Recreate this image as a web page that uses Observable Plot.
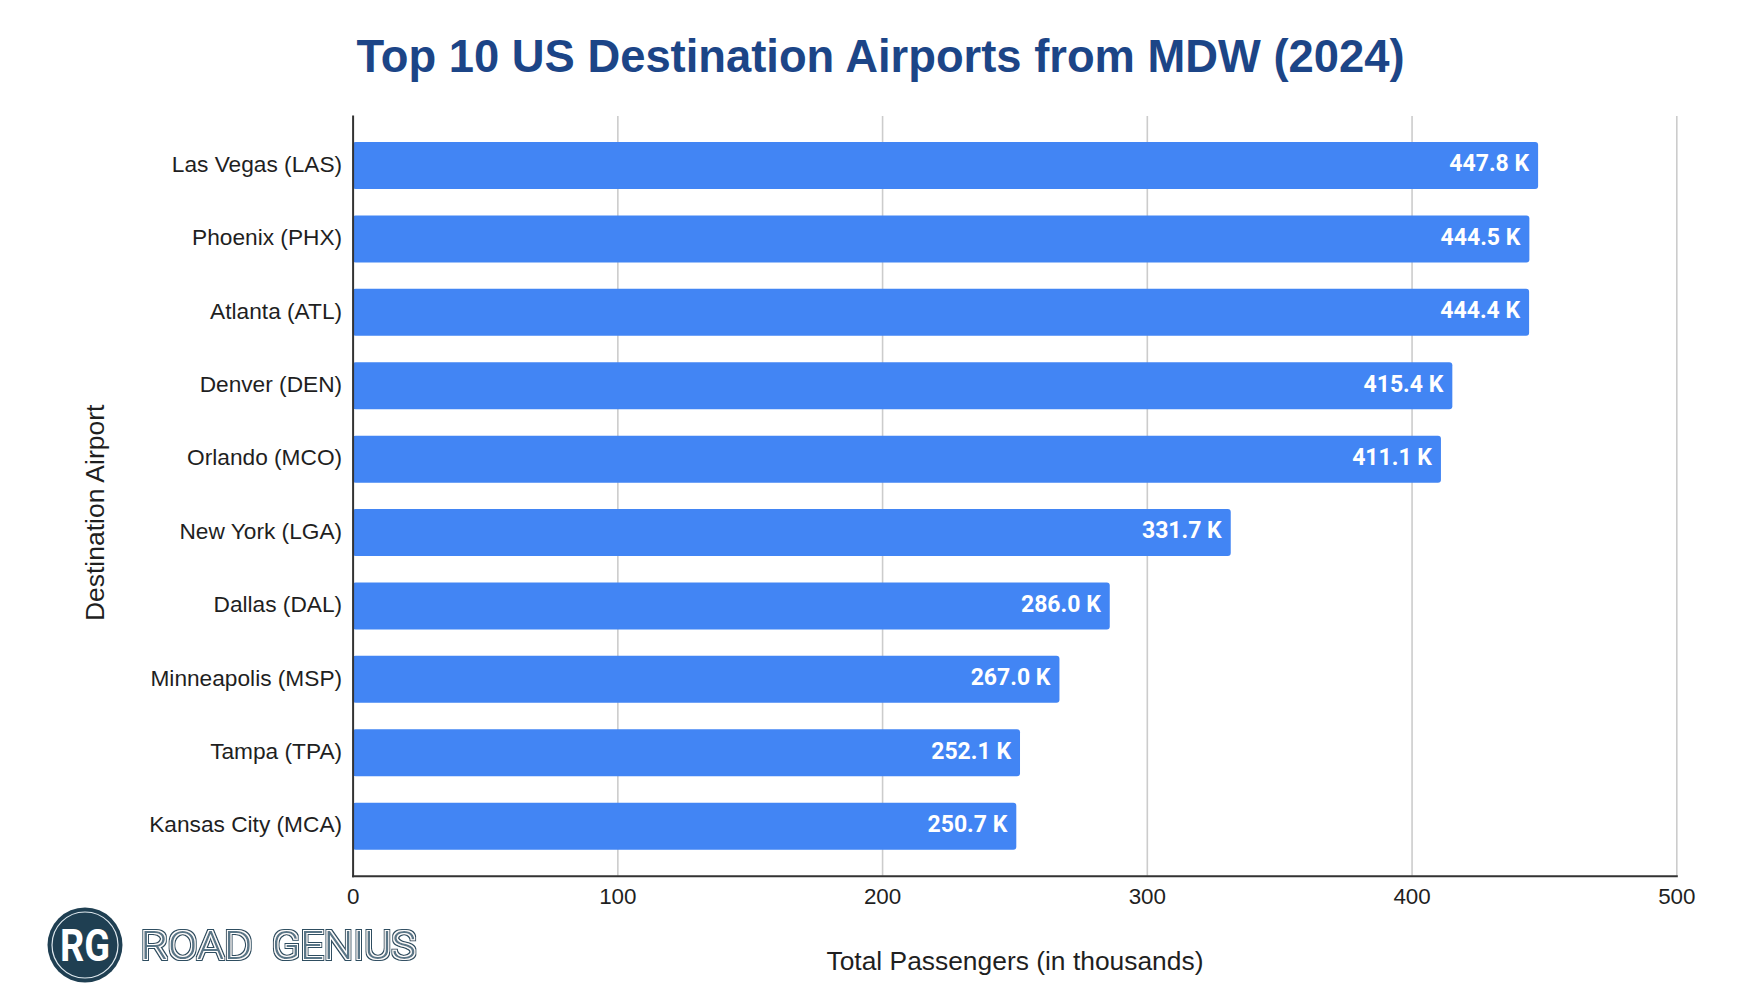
<!DOCTYPE html>
<html><head><meta charset="utf-8">
<script src="https://cdn.jsdelivr.net/npm/d3@7"></script>
<script src="https://cdn.jsdelivr.net/npm/@observablehq/plot@0.6"></script>
<style>
html,body{margin:0;padding:0;background:#fff;width:1760px;height:1000px;overflow:hidden;position:relative}
#title{height:100px;width:1760px;box-sizing:border-box;position:relative}
#title span{position:absolute;left:0;width:1761px;text-align:center;top:27px;font:bold 45.35px/60px "Liberation Sans",Arial,sans-serif;color:#1c4587;white-space:nowrap}
#chart svg{display:block}
#logo{position:absolute;left:0;top:880px}
</style></head><body>
<div id="title"><span>Top 10 US Destination Airports from MDW (2024)</span></div>
<div id="chart"></div>
<svg id="logo" width="460" height="120" viewBox="0 880 460 120">
  <defs>
    <filter id="inline" x="-5%" y="-20%" width="110%" height="140%">
      <feMorphology in="SourceAlpha" operator="dilate" radius="2.2" result="outer"/>
      <feFlood flood-color="#2d4d60"/><feComposite in2="outer" operator="in" result="o"/>
      <feMorphology in="SourceAlpha" operator="dilate" radius="1.2" result="mid"/>
      <feFlood flood-color="#ffffff"/><feComposite in2="mid" operator="in" result="m"/>
      <feMerge><feMergeNode in="o"/><feMergeNode in="m"/><feMergeNode in="SourceGraphic"/></feMerge>
    </filter>
  </defs>
  <circle cx="85" cy="945" r="37.5" fill="#1f3f52"/>
  <circle cx="85" cy="945" r="33" fill="none" stroke="#dfe8ee" stroke-width="1.2"/>
  <text x="85" y="961" text-anchor="middle" font-family="Roboto,sans-serif" font-weight="700" font-size="44" fill="#fff" textLength="50" lengthAdjust="spacingAndGlyphs">RG</text>
  <g font-family="Roboto,sans-serif" font-weight="300" font-size="38" fill="#5a7687" filter="url(#inline)">
    <text x="140.5" y="958.5" textLength="112" lengthAdjust="spacingAndGlyphs">ROAD</text>
    <text x="272" y="958.5" textLength="144" lengthAdjust="spacingAndGlyphs">GENIUS</text>
  </g>
</svg>
<script>
const airports = ["Las Vegas (LAS)","Phoenix (PHX)","Atlanta (ATL)","Denver (DEN)","Orlando (MCO)","New York (LGA)","Dallas (DAL)","Minneapolis (MSP)","Tampa (TPA)","Kansas City (MCA)"];
const passengers = [447.8,444.5,444.4,415.4,411.1,331.7,286.0,267.0,252.1,250.7];
const xTicks = [0,100,200,300,400,500];
const gridTicks = [100,200,300,400,500];
const xLabel = "Total Passengers (in thousands)";
const yLabel = "Destination Airport";
const rows = airports.map((a,i)=>({airport:a,value:passengers[i]}));
const sans = '"Liberation Sans",Arial,sans-serif';
const plot = Plot.plot({
  width:1760, height:900,
  marginLeft:352.6, marginRight:83.7, marginTop:16, marginBottom:124.3,
  style:{fontFamily:sans, background:"#fff"},
  x:{domain:[0,500]},
  y:{domain:airports, paddingInner:0.36, paddingOuter:0.355, align:0.5, round:false},
  marks:[
    Plot.gridX(gridTicks,{stroke:"#cccccc",strokeOpacity:1,strokeWidth:1.6}),
    Plot.barX(rows,{x:"value",y:"airport",fill:"#4285f4",rx:3}),
    Plot.frame({anchor:"left",stroke:"#333",strokeWidth:2}),
    Plot.frame({anchor:"bottom",stroke:"#333",strokeWidth:2}),
    Plot.axisY({tickSize:0,tickPadding:11,fontSize:22.7,label:null,color:"#1f1f1f",dy:-1.5}),
    Plot.axisX(xTicks,{anchor:"bottom",tickSize:0,tickPadding:12,fontSize:22.4,label:null,color:"#1f1f1f"}),
    Plot.text(rows,{x:"value",y:"airport",text:d=>d.value.toFixed(1)+" K",textAnchor:"end",dx:-9.5,dy:-2,fill:"#fff",fontSize:23,fontWeight:700,fontFamily:"Roboto,sans-serif"}),
    Plot.text([xLabel],{frameAnchor:"bottom",lineAnchor:"bottom",dy:94,fontSize:26.4,fill:"#1f1f1f"}),
    Plot.text([yLabel],{frameAnchor:"left",textAnchor:"middle",rotate:-90,dx:-258,dy:16.5,fontSize:26.5,fill:"#1f1f1f"})
  ]
});
document.getElementById("chart").append(plot);
</script>
</body></html>
